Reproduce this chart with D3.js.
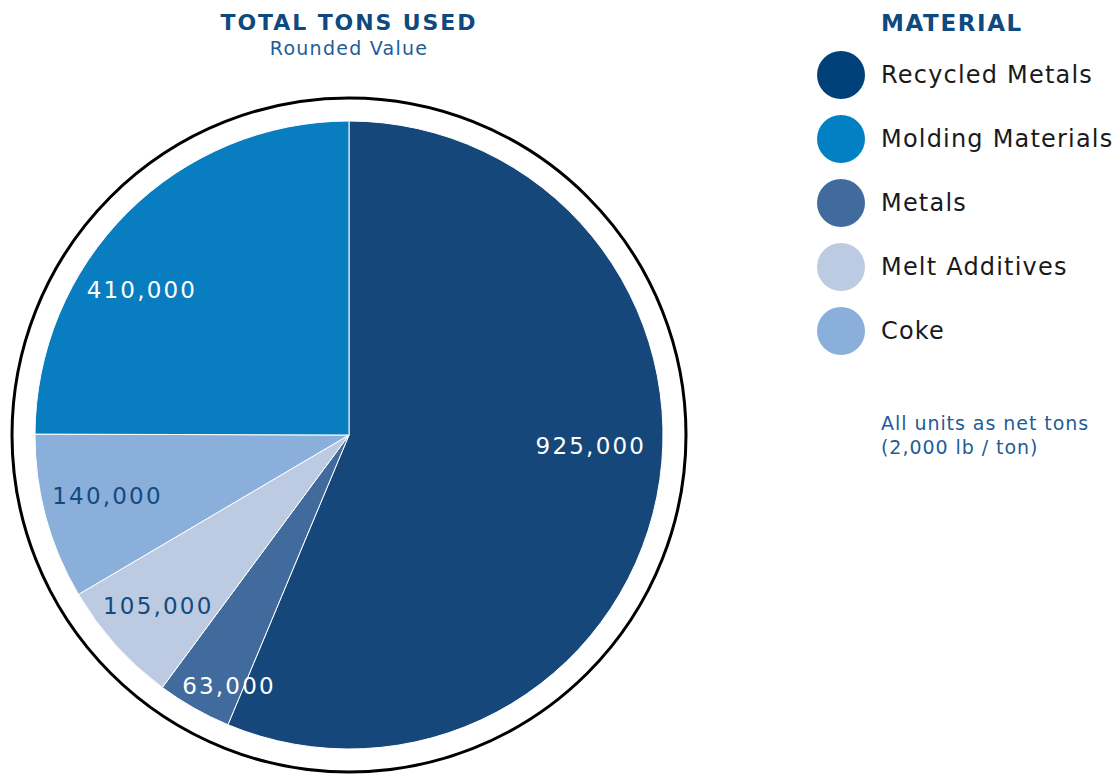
<!DOCTYPE html>
<html>
<head>
<meta charset="utf-8">
<script src="https://cdn.jsdelivr.net/npm/d3@7"></script>
<style>
  html, body { margin: 0; padding: 0; background: #ffffff; }
  svg { display: block; font-family: "DejaVu Sans", sans-serif; }
</style>
</head>
<body>
<svg id="chart" width="1117" height="778"></svg>
<script>
// Tonnage by material, in clockwise order from 12 o'clock
const categories = ["Recycled Metals", "Metals", "Melt Additives", "Coke", "Molding Materials"];
const tons = [925000, 63000, 105000, 140000, 410000];
const sliceColors = ["#16477a", "#416b9d", "#bccbe1", "#8aafdb", "#087dc0"];
const labelColors = ["#ffffff", "#ffffff", "#124a7f", "#124a7f", "#ffffff"];

// Legend order
const legendItems = ["Recycled Metals", "Molding Materials", "Metals", "Melt Additives", "Coke"];
const legendColors = ["#01417a", "#0280c4", "#416b9d", "#bccbe1", "#8aafdb"];

// Value-label placement: radius (fraction of pie radius) and angle nudge (degrees)
const labelRadius = [0.771, 0.885, 0.815, 0.793, 0.806];
const labelNudge = [-8.9, -4.0, 0.2, 1.1, -10.0];

const svg = d3.select("#chart");
const cx = 349, cy = 435, r = 314, ringR = 337;

const data = categories.map((c, i) => ({ name: c, value: tons[i], color: sliceColors[i], labelColor: labelColors[i], i }));

const pie = d3.pie().sort(null).value(d => d.value);
const arc = d3.arc().innerRadius(0).outerRadius(r);
const arcs = pie(data);

const g = svg.append("g").attr("transform", `translate(${cx},${cy})`);

// Outer ring
g.append("circle")
  .attr("r", ringR)
  .attr("fill", "none")
  .attr("stroke", "#000")
  .attr("stroke-width", 3);

// Slices
g.selectAll("path.slice")
  .data(arcs)
  .join("path")
  .attr("class", "slice")
  .attr("d", arc)
  .attr("fill", d => d.data.color)
  .attr("stroke", "#ffffff")
  .attr("stroke-width", 1);

// Value labels
const fmt = d3.format(",");
g.selectAll("text.val")
  .data(arcs)
  .join("text")
  .attr("class", "val")
  .attr("transform", d => {
    const a = (d.startAngle + d.endAngle) / 2 + labelNudge[d.data.i] * Math.PI / 180;
    const rr = r * labelRadius[d.data.i];
    return `translate(${rr * Math.sin(a)},${-rr * Math.cos(a)})`;
  })
  .attr("text-anchor", "middle")
  .attr("dy", "0.36em")
  .attr("fill", d => d.data.labelColor)
  .style("font-size", "23px")
  .style("letter-spacing", "2.2px")
  .text(d => fmt(d.data.value));

// Title
svg.append("text")
  .attr("x", cx).attr("y", 30)
  .attr("text-anchor", "middle")
  .attr("fill", "#0e4a80")
  .style("font-size", "22px").style("font-weight", "bold").style("letter-spacing", "1.9px")
  .text("TOTAL TONS USED");
svg.append("text")
  .attr("x", cx).attr("y", 55)
  .attr("text-anchor", "middle")
  .attr("fill", "#1f5d99")
  .style("font-size", "19px").style("letter-spacing", "1.25px")
  .text("Rounded Value");

// Legend
const lg = svg.append("g");
lg.append("text")
  .attr("x", 881).attr("y", 31)
  .attr("fill", "#0e4a80")
  .style("font-size", "23px").style("font-weight", "bold").style("letter-spacing", "1.6px")
  .text("MATERIAL");

const ly = d3.scalePoint().domain(legendItems).range([75, 331]);
const rows = lg.selectAll("g.row")
  .data(legendItems)
  .join("g")
  .attr("class", "row")
  .attr("transform", d => `translate(0,${ly(d)})`);
rows.append("circle")
  .attr("cx", 841).attr("cy", 0).attr("r", 24)
  .attr("fill", (d, i) => legendColors[i]);
rows.append("text")
  .attr("x", 881).attr("y", 8)
  .attr("fill", "#1a1a1a")
  .style("font-size", "24px")
  .style("letter-spacing", "1.2px")
  .text(d => d);

// Footnote
const note = lg.append("text")
  .attr("x", 881).attr("y", 430)
  .attr("fill", "#1f5d99")
  .style("font-size", "19px").style("letter-spacing", "0.95px");
note.append("tspan").attr("x", 881).text("All units as net tons");
note.append("tspan").attr("x", 881).attr("dy", 24).text("(2,000 lb / ton)");
</script>
</body>
</html>
